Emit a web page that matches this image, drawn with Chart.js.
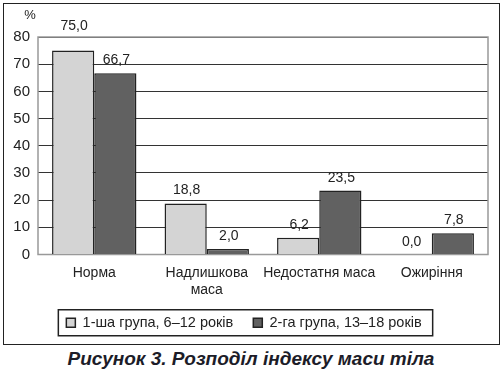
<!DOCTYPE html>
<html>
<head>
<meta charset="utf-8">
<script src="https://cdn.jsdelivr.net/npm/chart.js@4/dist/chart.umd.min.js"></script>
<style>
  html, body { margin: 0; padding: 0; background: #fff; }
  #frame { position: absolute; left: 3px; top: 3px; width: 495px; height: 340px; border: 1.5px solid #222; }
  #wrap { position: absolute; left: 0; top: 0; width: 504px; height: 340px; }
  #caption { position: absolute; left: 0; top: 348px; width: 502px; text-align: center;
    font: italic bold 19px "Liberation Sans", Arial, sans-serif; color: #1c1c28; }
</style>
</head>
<body>
<div id="frame"></div>
<div id="wrap"><canvas id="myChart"></canvas></div>
<div id="caption">Рисунок 3. Розподіл індексу маси тіла</div>
<script>
const categories = ['Норма', ['Надлишкова', 'маса'], 'Недостатня маса', 'Ожиріння'];
const group1 = [75.0, 18.8, 6.2, 0.0];
const group2 = [66.7, 2.0, 23.5, 7.8];
const seriesNames = ['1-ша група, 6–12 років', '2-га група, 13–18 років'];
const yTicks = [0, 10, 20, 30, 40, 50, 60, 70, 80];

const font = '"Liberation Sans", Arial, sans-serif';

// values above the bars, with a decimal comma
const valueLabels = {
  id: 'valueLabels',
  afterDatasetsDraw(chart) {
    const ctx = chart.ctx;
    const top = chart.chartArea.top;
    ctx.save();
    ctx.font = '14px ' + font;
    ctx.fillStyle = '#222';
    ctx.textAlign = 'center';
    ctx.textBaseline = 'alphabetic';
    chart.data.datasets.forEach((ds, i) => {
      chart.getDatasetMeta(i).data.forEach((bar, j) => {
        let y = bar.y - 9;
        // keep the label off the top frame line
        if (y - 10 < top + 2) y = top - 7;
        ctx.fillText(ds.data[j].toFixed(1).replace('.', ','), bar.x + 1, y);
      });
    });
    ctx.restore();
  }
};

// grey frame round the plot, "%" sign, box round the legend
const extras = {
  id: 'extras',
  beforeDatasetsDraw(chart) {
    const a = chart.chartArea;
    const ctx = chart.ctx;
    ctx.save();
    ctx.strokeStyle = '#999';
    ctx.lineWidth = 1.5;
    ctx.strokeRect(a.left, a.top, a.right - a.left, a.bottom - a.top);
    ctx.restore();
  },
  afterDraw(chart) {
    const a = chart.chartArea;
    const ctx = chart.ctx;
    ctx.save();
    ctx.font = '13px ' + font;
    ctx.fillStyle = '#222';
    ctx.textAlign = 'center';
    ctx.textBaseline = 'middle';
    ctx.fillText('%', a.left - 8, a.top - 22);
    const boxes = chart.legend.legendHitBoxes;
    if (boxes && boxes.length) {
      const first = boxes[0];
      const last = boxes[boxes.length - 1];
      const cy = first.top + first.height / 2;
      ctx.strokeStyle = '#222';
      ctx.lineWidth = 1.5;
      ctx.strokeRect(first.left - 8, cy - 13, last.left + last.width - first.left + 19, 26);
    }
    ctx.restore();
  }
};

const config = {
  type: 'bar',
  data: {
    labels: categories,
    datasets: [
      { label: seriesNames[0], data: group1, backgroundColor: '#d4d4d4', borderColor: '#222', borderWidth: 1.5, categoryPercentage: 0.75, barPercentage: 1.0 },
      { label: seriesNames[1], data: group2, backgroundColor: '#616161', borderColor: '#222', borderWidth: 1.5, categoryPercentage: 0.75, barPercentage: 1.0 }
    ]
  },
  options: {
    responsive: true,
    maintainAspectRatio: false,
    animation: false,
    layout: { padding: { top: 37, right: 16, left: 0, bottom: 0 } },
    plugins: {
      tooltip: { enabled: false },
      legend: {
        position: 'bottom',
        labels: {
          boxWidth: 9, boxHeight: 9, padding: 20,
          font: { family: font, size: 14.5 }, color: '#222'
        }
      }
    },
    scales: {
      x: {
        grid: { display: false },
        border: { display: false },
        ticks: { font: { family: font, size: 14 }, color: '#222', padding: 2, maxRotation: 0, autoSkip: false },
        afterFit(scale) { scale.height = 41; }
      },
      y: {
        min: 0, max: 80,
        afterBuildTicks(scale) { scale.ticks = yTicks.map(v => ({ value: v })); },
        grid: { color: '#333', lineWidth: 1, drawTicks: false },
        border: { display: false },
        ticks: { font: { family: font, size: 15 }, color: '#222', padding: 8 },
        afterFit(scale) { scale.width = 38; }
      }
    }
  },
  plugins: [valueLabels, extras]
};

const ctx = document.getElementById('myChart').getContext('2d');
let myChart = new Chart(ctx, config);
</script>
</body>
</html>
